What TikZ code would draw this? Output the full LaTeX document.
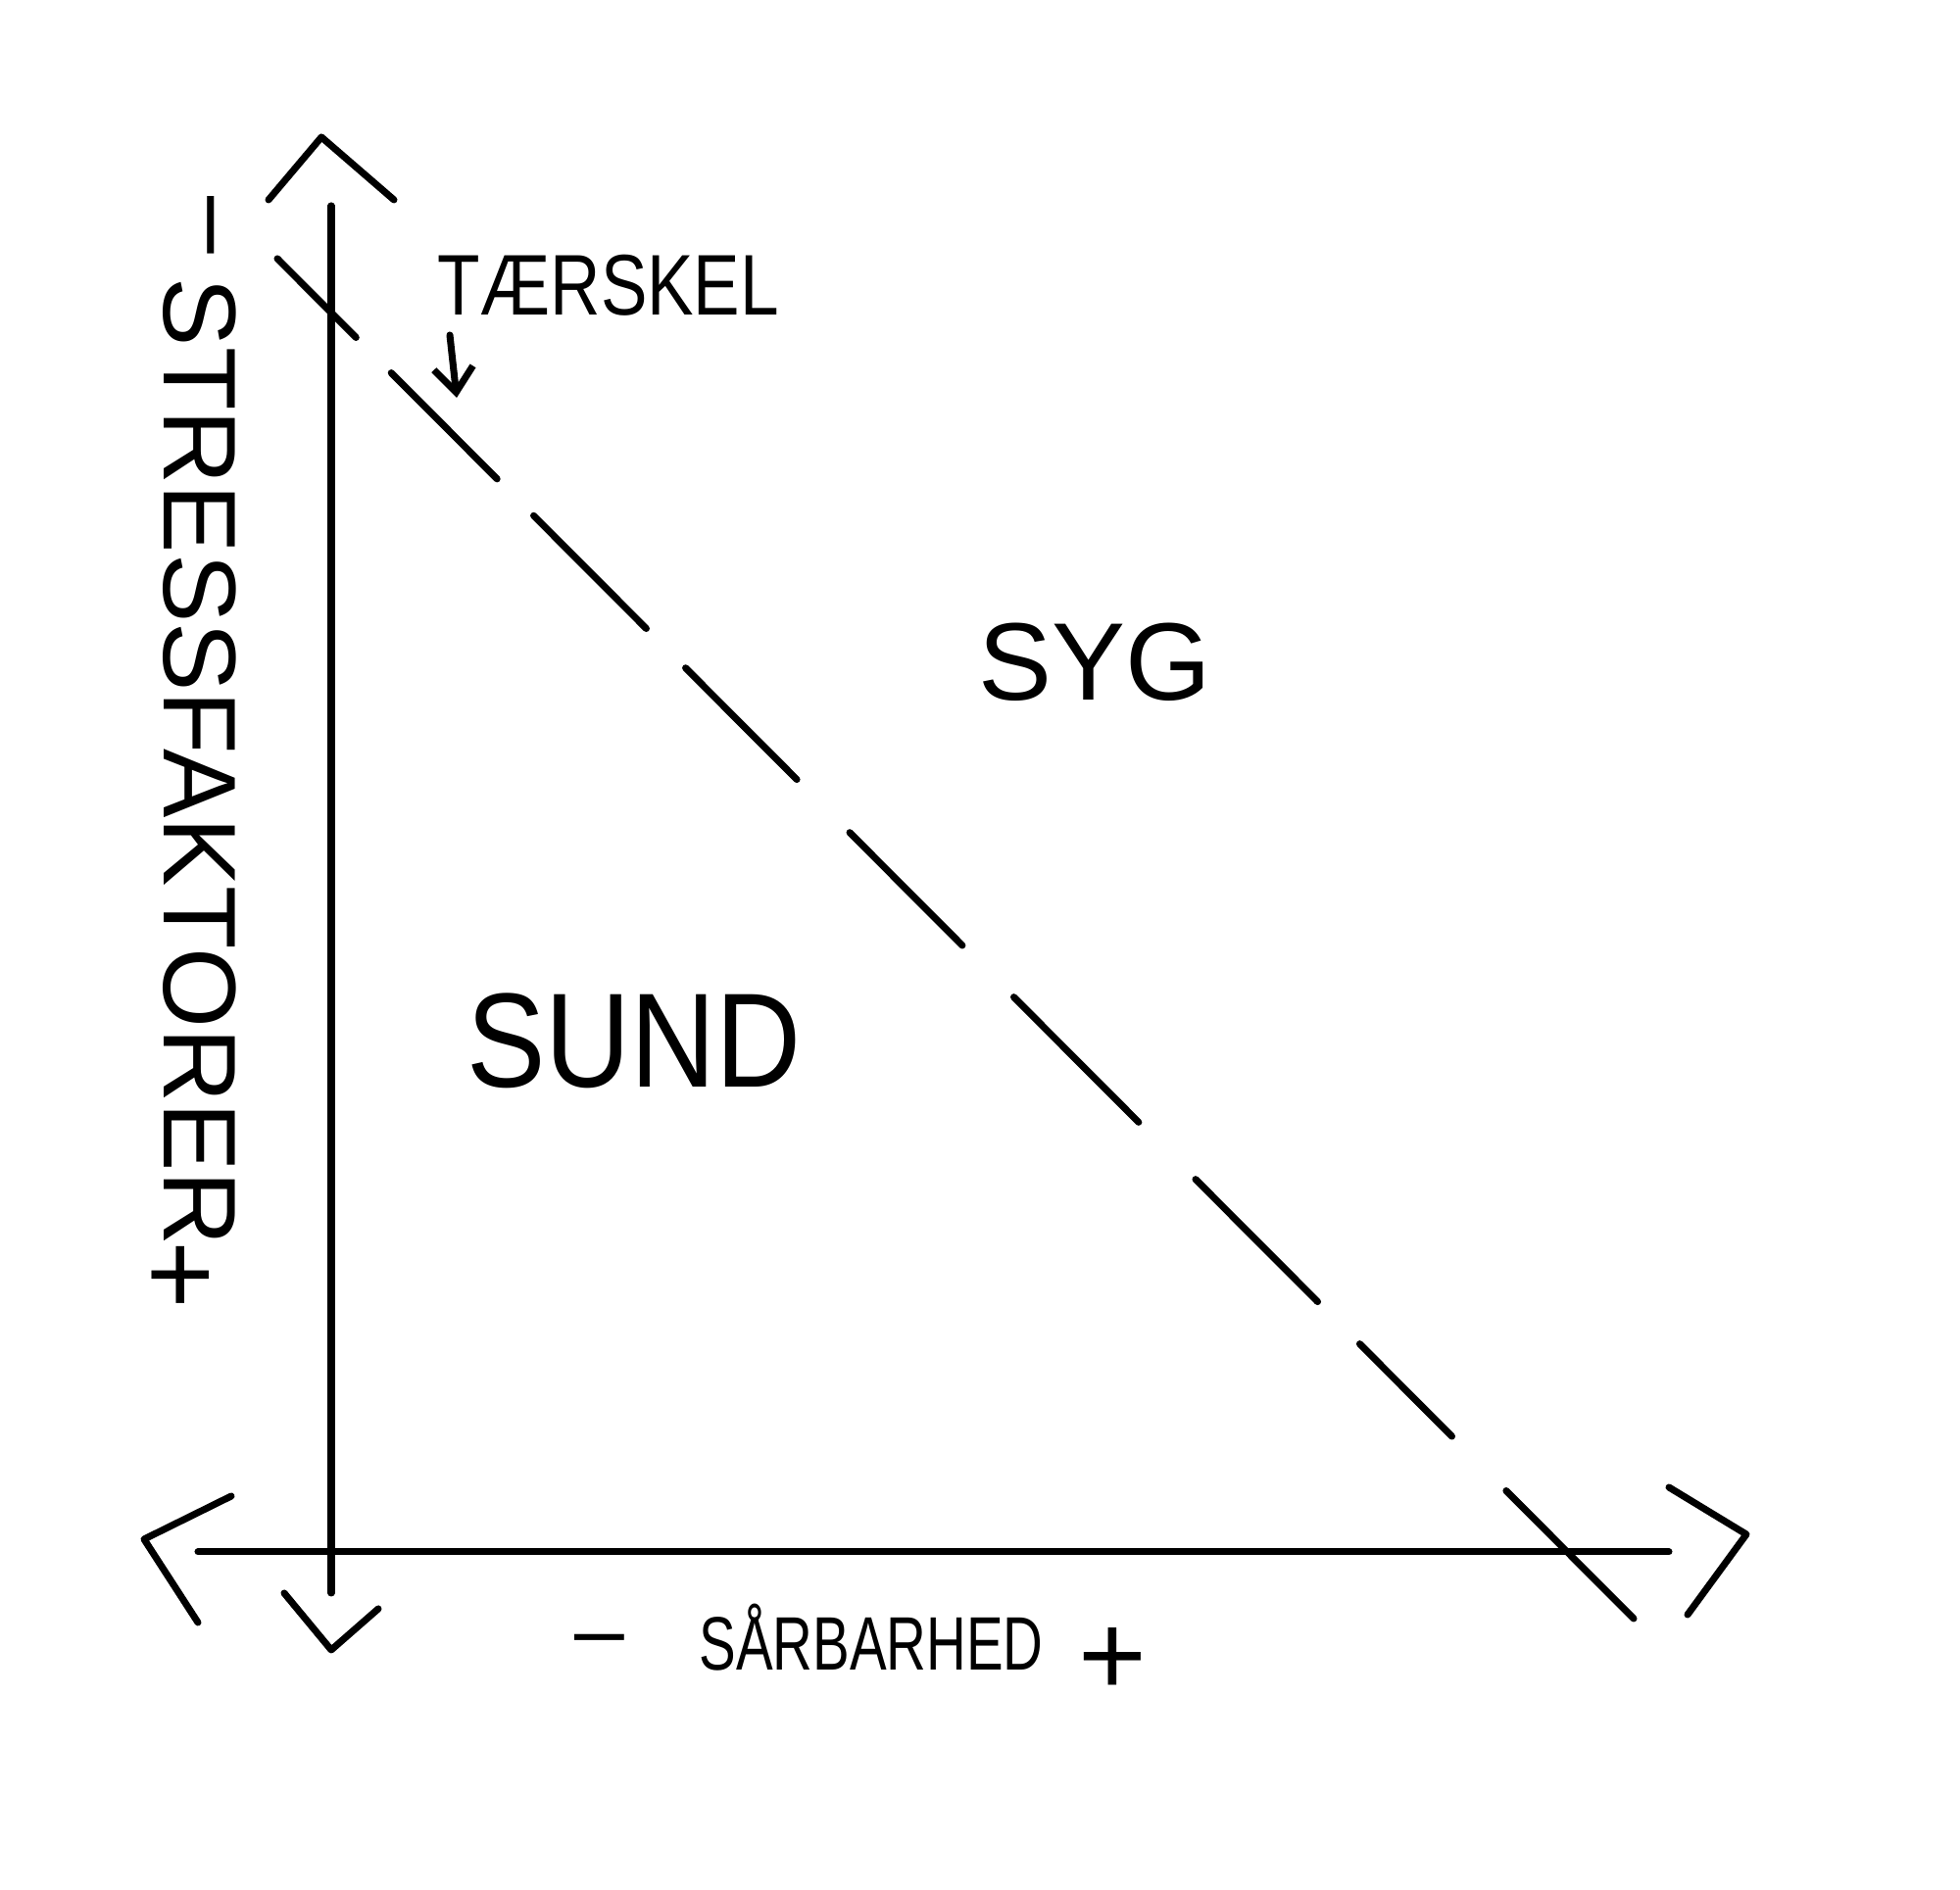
\documentclass[tikz,border=0pt]{standalone}
\usepackage{fontspec}
\setmainfont{Liberation Sans}
\usetikzlibrary{arrows.meta, calc, backgrounds}

\begin{document}
\begin{tikzpicture}[
            background rectangle/.style={fill=white},
            show background rectangle,
            line width=2pt,
            line cap=round,
            line join=round,
            axis/.style={draw, line width=2pt},
            chevron/.style={draw, line width=2pt},
            label/.style={inner sep=0pt}
        ]

        \useasboundingbox (0,0) rectangle (20,19.29);

        % akser
        \coordinate (ytop) at (3.38,17.19);
        \coordinate (ybot) at (3.38,3.03);
        \coordinate (xleft) at (2.02,3.45);
        \coordinate (xright) at (17.03,3.45);

        \draw[axis] (ytop) -- (ybot);
        \draw[axis] (xleft) -- (xright);

        % pilespidser
        \draw[chevron] (2.74,17.25) -- (3.28,17.89) -- (4.02,17.25);
        \draw[chevron] (2.90,3.03) -- (3.38,2.45) -- (3.86,2.87);
        \draw[chevron] (2.36,4.02) -- (1.47,3.58) -- (2.02,2.73);
        \draw[chevron] (17.03,4.11) -- (17.82,3.63) -- (17.22,2.81);

        % taerskel, stiplet
        \coordinate (t0) at (2.83,16.65);
        \coordinate (t1) at (16.67,2.77);
        \foreach \a/\b in {0/0.058, 0.084/0.162, 0.189/0.272, 0.301/0.383,
                           0.422/0.505, 0.543/0.635, 0.677/0.767, 0.798/0.866,
                           0.906/1}
            \draw ($(t0)!\a!(t1)$) -- ($(t0)!\b!(t1)$);

        \node[label] (terskel) at (6.21,16.38)
            {\fontsize{25}{25}\selectfont\scalebox{0.81}[1]{TÆRSKEL}};
        \coordinate (pil0) at (4.59,15.87);
        \coordinate (pil1) at (4.66,15.23);
        \draw[-{Straight Barb[length=2.5mm,width=4mm]}] (pil0) -- (pil1);

        % omraader
        \node[label] (syg) at (11.17,12.53)
            {\fontsize{32}{32}\selectfont SYG};
        \node[label] (sund) at (6.47,8.67)
            {\fontsize{39}{39}\selectfont\scalebox{0.88}[1]{SUND}};

        % y-akse tekst
        \node[label, rotate=-90] (stress) at (2.04,11.51)
            {\fontsize{30}{30}\selectfont STRESSFAKTORER};
        \node[label, rotate=-90] (ymin) at (2.04,16.99)
            {\fontsize{30}{30}\selectfont --};
        \node[label, rotate=-90] (yplus) at (1.79,6.28)
            {\fontsize{34}{34}\selectfont +};

        % x-akse tekst
        \node[label] (saarbar) at (8.89,2.58)
            {\fontsize{22}{22}\selectfont\scalebox{0.73}[1]{SÅRBARHED}};
        \node[label] (xmin) at (6.12,2.48)
            {\fontsize{26}{26}\selectfont --};
        \node[label] (xplus) at (11.35,2.33)
            {\fontsize{34}{34}\selectfont +};

    \end{tikzpicture}
\end{document}
